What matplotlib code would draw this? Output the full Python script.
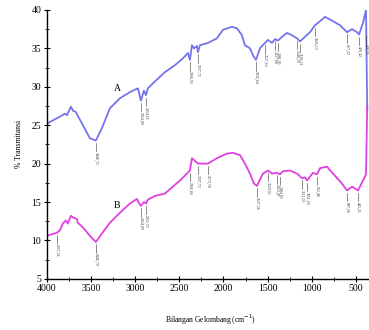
import numpy as np
import matplotlib
matplotlib.use("Agg")
import matplotlib.pyplot as plt
from matplotlib.ticker import MultipleLocator

plt.rcParams['font.family'] = ['Liberation Serif', 'DejaVu Serif']

# spectrum A (wavenumber cm-1, %T)
wn_a = [4000, 3887, 3853, 3796, 3773, 3728, 3705, 3671, 3649, 3592, 3513, 3445,
        3377, 3286, 3173, 3060, 2969, 2935, 2901, 2878, 2856, 2776, 2663, 2550,
        2459, 2402, 2380, 2357, 2334, 2300, 2289, 2266, 2176, 2074, 2006, 1904,
        1847, 1791, 1757, 1700, 1666, 1632, 1587, 1530, 1496, 1451, 1417, 1383,
        1337, 1281, 1224, 1167, 1133, 1077, 1020, 964, 930, 850, 771, 680, 601,
        544, 488, 465, 420, 386, 372]
t_a = [25.2, 25.9, 26.1, 26.5, 26.3, 27.4, 26.9, 26.7, 26.2, 25.0, 23.3, 23.0,
       24.6, 27.2, 28.5, 29.3, 29.8, 28.2, 29.5, 28.9, 29.8, 30.7, 31.9, 32.8,
       33.7, 34.4, 33.5, 35.4, 35.0, 35.3, 34.5, 35.4, 35.7, 36.3, 37.4, 37.8,
       37.6, 36.7, 35.4, 35.0, 34.1, 33.5, 35.0, 35.7, 36.1, 35.7, 36.2, 36.0,
       36.5, 37.0, 36.7, 36.3, 35.9, 36.5, 37.1, 38.0, 38.3, 39.1, 38.6, 38.0,
       37.1, 37.5, 37.1, 36.8, 38.3, 40.0, 27.0]

# spectrum B
wn_b = [4000, 3887, 3853, 3819, 3785, 3762, 3728, 3705, 3660, 3649, 3592, 3513,
        3445, 3377, 3286, 3173, 3060, 2980, 2958, 2935, 2901, 2878, 2856, 2776,
        2663, 2493, 2380, 2357, 2289, 2176, 2074, 1961, 1893, 1813, 1757, 1700,
        1655, 1621, 1609, 1553, 1496, 1451, 1394, 1360, 1326, 1247, 1167, 1111,
        1077, 1054, 986, 941, 907, 828, 760, 658, 601, 544, 476, 420, 386, 372]
t_b = [10.6, 11.0, 11.3, 12.2, 12.6, 12.2, 13.2, 13.0, 12.8, 12.3, 11.7, 10.6,
       9.8, 10.9, 12.3, 13.6, 14.8, 15.4, 14.9, 14.5, 15.0, 14.8, 15.3, 15.8,
       16.1, 17.8, 19.1, 20.7, 20.0, 20.0, 20.7, 21.3, 21.4, 21.1, 20.0, 18.7,
       17.4, 17.1, 17.4, 18.7, 19.1, 18.7, 18.8, 18.6, 19.0, 19.1, 18.7, 18.1,
       18.2, 17.8, 18.8, 18.6, 19.4, 19.6, 18.7, 17.4, 16.5, 17.0, 16.5, 17.8,
       18.6, 27.5]

# peak labels (wavenumber, %T at peak, text)
peaks_a = [(3445, 23.0, "3448,72"), (2935, 28.2, "2924,09"), (2878, 28.9, "2854,65"),
           (2380, 33.5, "2368,59"), (2289, 34.5, "2337,72"), (1632, 33.5, "1635,64"),
           (1530, 35.7, "1527,62"), (1417, 36.2, "1417,68"), (1383, 36.0, "1381,03"),
           (1167, 36.3, "1240,23"), (1133, 35.9, "1105,21"), (964, 38.0, "1026,13"),
           (601, 37.1, "617,22"), (465, 36.8, "476,42"), (386, 37.0, "418,55")]
peaks_b = [(3887, 11.0, "3857,34"), (3445, 9.8, "3446,79"), (2935, 14.5, "2924,09"),
           (2878, 14.8, "2852,72"), (2380, 19.1, "2366,66"), (2289, 20.0, "2337,72"),
           (2176, 20.0, "2173,78"), (1621, 17.1, "1637,56"), (1496, 19.1, "1529,55"),
           (1394, 18.8, "1423,47"), (1360, 18.6, "1384,89"), (1111, 18.1, "1111,00"),
           (1054, 17.8, "1051,20"), (941, 18.6, "962,48"), (601, 16.5, "607,58"),
           (476, 16.5, "482,21")]

color_a = '#7474ec'
color_b = '#e040e2'

fig = plt.figure(figsize=(3.69, 3.30), dpi=100)
ax = fig.add_axes([0.127, 0.155, 0.873, 0.815])

ax.plot(wn_a, t_a, color=color_a, lw=1.3)
ax.plot(wn_b, t_b, color=color_b, lw=1.3)

for peaks in (peaks_a, peaks_b):
    for x, y, txt in peaks:
        ax.plot([x, x], [y - 0.3, y - 1.4], color='#333333', lw=0.4)
        ax.text(x, y - 1.5, txt, rotation=270, ha='center', va='top',
                fontsize=2.8, color='#333333')

ax.text(3196, 29.8, "A", fontsize=7, ha='center', va='center')
ax.text(3207, 14.5, "B", fontsize=7, ha='center', va='center')

ax.set_xlim(4000, 352)
ax.set_ylim(5, 40)
ax.xaxis.set_major_locator(MultipleLocator(500))
ax.xaxis.set_minor_locator(MultipleLocator(250))
ax.yaxis.set_major_locator(MultipleLocator(5))
ax.yaxis.set_minor_locator(MultipleLocator(2.5))
ax.tick_params(which='major', direction='inout', length=4, width=0.8, labelsize=7, pad=2)
ax.tick_params(which='minor', direction='inout', length=2.5, width=0.6)
ax.spines['top'].set_visible(False)
ax.spines['right'].set_visible(False)
ax.spines['left'].set_linewidth(1.0)
ax.spines['bottom'].set_linewidth(1.0)

ax.set_ylabel("% Transmitansi", fontsize=5.5, labelpad=6)
fig.text(0.57, 0.03, "Bilangan Gelombang (cm$^{-1}$)", fontsize=5.5, ha='center', va='center')

fig.savefig("out.png", dpi=100)
